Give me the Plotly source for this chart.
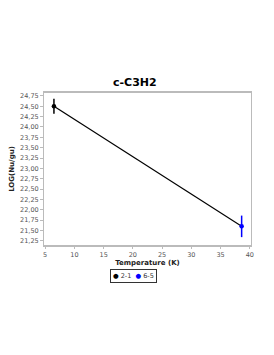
import plotly.graph_objects as go

temps = [6.5, 38.6]
logs = [24.50, 21.60]
errs = [0.18, 0.26]
labels = ["2-1", "6-5"]
colors = ["black", "blue"]
ytickvals = [21.25, 21.5, 21.75, 22.0, 22.25, 22.5, 22.75, 23.0, 23.25, 23.5, 23.75, 24.0, 24.25, 24.5, 24.75]
xtickvals = [5, 10, 15, 20, 25, 30, 35, 40]

fig = go.Figure()
fig.add_trace(go.Scatter(x=temps, y=logs, mode="lines", line=dict(color="black", width=1.2),
                         showlegend=False, hoverinfo="skip"))
for i in range(2):
    fig.add_trace(go.Scatter(x=[temps[i]], y=[logs[i]], mode="markers", name=labels[i],
                             marker=dict(color=colors[i], size=4.5), showlegend=False,
                             error_y=dict(type="data", array=[errs[i]], color=colors[i], width=0, thickness=1.5)))

legend_text = "  ".join(
    f"<span style='color:{c}'>●</span> {l}" for c, l in zip(colors, labels)
)

fig.update_layout(
    width=266, height=347,
    margin=dict(l=36, r=23, t=85, b=110, autoexpand=False),
    paper_bgcolor="white", plot_bgcolor="white",
    separators=",.",
    font=dict(family="DejaVu Sans", size=6.5, color="#555"),
    showlegend=False,
    title=dict(text="<b>c-C3H2</b>", x=0.477, xanchor="center", y=0.787, yanchor="middle",
               font=dict(size=11, color="black"), automargin=False),
    xaxis=dict(range=[4.8, 40.2], tickvals=xtickvals, showgrid=False, zeroline=False, automargin=False,
               showline=True, linecolor="#bbb", linewidth=2, mirror=True, ticks="outside",
               ticklen=2, tickcolor="#bbb",
               title=dict(text="<b>Temperature (K)</b>", font=dict(size=7, color="#222"), standoff=0)),
    yaxis=dict(range=[21.15, 24.82], tickvals=ytickvals, tickformat=".2f", showgrid=False, zeroline=False,
               automargin=False,
               showline=True, linecolor="#bbb", linewidth=1, mirror=True, ticks="outside",
               ticklen=3, tickcolor="#bbb",
               title=dict(text="<b>LOG(Nu/gu)</b>", font=dict(size=7, color="#222"), standoff=5)),
    annotations=[dict(text=legend_text, xref="paper", yref="paper", x=0.43, y=-0.158,
                      xanchor="center", yanchor="top", showarrow=False,
                      bordercolor="#333", borderwidth=1, borderpad=2,
                      font=dict(size=6.5, color="#333"))],
)
fig.write_html("out.html")
